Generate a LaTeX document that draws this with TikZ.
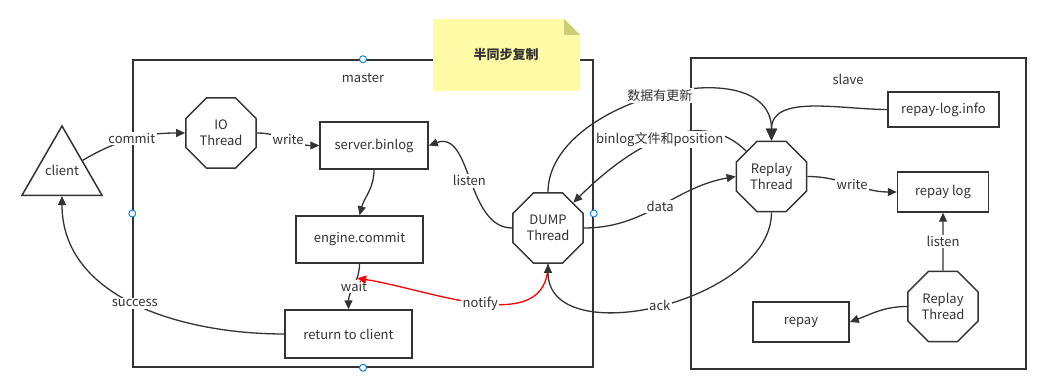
\documentclass[tikz,border=0pt]{standalone}
\usepackage{fontspec}
\setmainfont{Noto Sans CJK SC}
\usetikzlibrary{arrows.meta,shapes.geometric}
\definecolor{linegray}{RGB}{51,51,51}
\definecolor{noteyellow}{RGB}{255,250,165}
\definecolor{notefold}{RGB}{205,205,120}
\definecolor{handleblue}{RGB}{0,127,255}

\begin{document}
\begin{tikzpicture}[
  x=1pt, y=-1pt,
  every node/.style={font=\fontsize{13}{16}\selectfont, text=linegray},
  frame/.style={draw=linegray, line width=1.5pt, inner sep=0pt},
  thread/.style={draw=linegray, line width=1.5pt, regular polygon, regular polygon sides=8, minimum size=76pt, inner sep=0pt, align=center, fill=white},
  box/.style={draw=linegray, line width=1.5pt, minimum height=47pt, inner sep=2pt, fill=white},
  lbl/.style={fill=white, inner sep=1.5pt},
  arr/.style={-{Triangle[length=9pt,width=8pt]}, draw=linegray, line width=1.3pt},
  handle/.style={circle, draw=handleblue, fill=white, line width=0.9pt, minimum size=7pt, inner sep=0pt}
]
\useasboundingbox (0,0) rectangle (1055,390);

% frames
\node[frame, minimum width=460pt, minimum height=307pt] (master) at (363,213.5) {};
\node[frame, minimum width=335pt, minimum height=311pt] (slave) at (858.5,213.5) {};
\node (masterlbl) at (363,78) {master};
\node (slavelbl) at (848,79) {slave};
\foreach \side in {north,south,east,west}
  \node[handle] (h-\side) at (master.\side) {};

% note
\fill[noteyellow] (433,19) -- (564,19) -- (580,35) -- (580,91) -- (433,91) -- cycle;
\fill[notefold] (564,19) -- (564,35) -- (580,35) -- cycle;
\node[font=\fontsize{13}{16}\selectfont\bfseries] (note) at (506,55) {半同步复制};

% master side
\node[draw=linegray, line width=1.5pt, regular polygon, regular polygon sides=3, minimum size=92.4pt, inner sep=0pt, fill=white] (client) at (62,172.2) {};
\node (clientlbl) at (62,170) {client};
\node[thread] (io) at (221,133) {IO\\Thread};
\node[box, minimum width=108pt] (binlog) at (374,145.5) {server.binlog};
\node[box, minimum width=127pt] (engine) at (359.5,239.5) {engine.commit};
\node[box, minimum width=127pt, minimum height=48pt] (return) at (348.5,334) {return to client};
\node[thread] (dump) at (548,228) {DUMP\\Thread};

% slave side
\node[thread] (replay) at (771.5,176.5) {Replay\\Thread};
\node[box, minimum width=111pt, minimum height=35pt] (repayinfo) at (943.5,109.5) {repay-log.info};
\node[box, minimum width=91pt, minimum height=40pt] (repaylog) at (943,192) {repay log};
\node[thread] (replaytwo) at (943,306.5) {Replay\\Thread};
\node[box, minimum width=96pt, minimum height=40pt] (repay) at (801,322) {repay};

% connectors
\draw[arr] (client.30) to[out=30,in=180] node[lbl]{commit} (io.west);
\draw[arr] (io.east) to[out=0,in=180] node[lbl]{write} (binlog.west);
\draw[arr] (binlog.south) to[out=-90,in=75] (engine.north);
\draw[arr] (engine.south) to[out=-90,in=90] coordinate[pos=0.3] (waitpt) node[lbl]{wait} (return.north);
\draw[arr] (return.west) to[out=180,in=-90] node[lbl]{success} (client.south);
\draw[arr] (dump.west) to[out=180,in=20] node[lbl]{listen} (binlog.east);
\draw[arr, draw=red, -{Triangle[length=9pt,width=8pt,fill=red]}] (dump.south) to[out=-90,in=-9] node[lbl]{notify} (waitpt);
\draw[arr] (dump.east) to[out=0,in=190] node[lbl]{data} (replay.west);
\draw[arr] (replay.south) to[out=-90,in=-90] node[lbl]{ack} (dump.south);
\draw[arr, -{Triangle[length=12pt,width=11pt]}] (dump.north) to[out=90,in=90,looseness=1.05] node[lbl]{数据有更新} (replay.north);
\draw[arr] (replay.135) to[out=135,in=45] node[lbl]{binlog文件和position} (dump.45);
\draw[arr, -{Triangle[length=12pt,width=11pt]}] (repayinfo.west) to[out=180,in=90] (replay.north);
\draw[arr] (replay.east) to[out=0,in=180] node[lbl]{write} (repaylog.west);
\draw[arr] (replaytwo.north) -- node[lbl]{listen} (repaylog.south);
\draw[arr] (replaytwo.west) to[out=180,in=20] (repay.east);
\end{tikzpicture}
\end{document}
